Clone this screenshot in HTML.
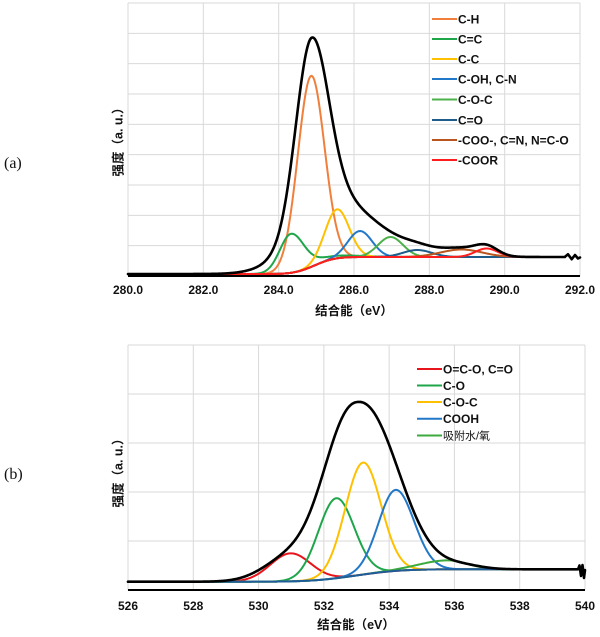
<!DOCTYPE html>
<html><head><meta charset="utf-8"><style>
html,body{margin:0;padding:0;background:#fff;}
svg{display:block;}
text{font-family:"Liberation Sans","Noto Sans CJK SC",sans-serif;fill:#111;}
.tk{font-size:12px;font-weight:bold;text-anchor:middle;}
.lg{font-size:12px;font-weight:bold;}
.ttl{font-size:12.5px;font-weight:bold;text-anchor:middle;}
.pl{font-family:"Liberation Serif",serif;font-size:16px;fill:#111;}
</style></head><body>
<svg id="s" width="600" height="637" viewBox="0 0 600 637" xmlns="http://www.w3.org/2000/svg">
<g stroke="#d9d9d9" stroke-width="1" fill="none">
<line x1="128" y1="3" x2="128" y2="276"/><line x1="203.33" y1="3" x2="203.33" y2="276"/><line x1="278.67" y1="3" x2="278.67" y2="276"/><line x1="354" y1="3" x2="354" y2="276"/><line x1="429.33" y1="3" x2="429.33" y2="276"/><line x1="504.67" y1="3" x2="504.67" y2="276"/><line x1="580" y1="3" x2="580" y2="276"/>
<line x1="128" y1="3" x2="580" y2="3"/><line x1="128" y1="33.33" x2="580" y2="33.33"/><line x1="128" y1="63.67" x2="580" y2="63.67"/><line x1="128" y1="94" x2="580" y2="94"/><line x1="128" y1="124.33" x2="580" y2="124.33"/><line x1="128" y1="154.67" x2="580" y2="154.67"/><line x1="128" y1="185" x2="580" y2="185"/><line x1="128" y1="215.33" x2="580" y2="215.33"/><line x1="128" y1="245.67" x2="580" y2="245.67"/>
<line x1="128" y1="345" x2="128" y2="590"/><line x1="193.29" y1="345" x2="193.29" y2="590"/><line x1="258.57" y1="345" x2="258.57" y2="590"/><line x1="323.86" y1="345" x2="323.86" y2="590"/><line x1="389.14" y1="345" x2="389.14" y2="590"/><line x1="454.43" y1="345" x2="454.43" y2="590"/><line x1="519.71" y1="345" x2="519.71" y2="590"/><line x1="585" y1="345" x2="585" y2="590"/>
<line x1="128" y1="345" x2="585" y2="345"/><line x1="128" y1="394" x2="585" y2="394"/><line x1="128" y1="443" x2="585" y2="443"/><line x1="128" y1="492" x2="585" y2="492"/><line x1="128" y1="541" x2="585" y2="541"/>
</g>
<g id="curvesA"></g>
<g id="curvesB"></g>
<line x1="128" y1="276" x2="580" y2="276" stroke="#000" stroke-width="2"/>
<line x1="128" y1="590" x2="585" y2="590" stroke="#000" stroke-width="2"/>

<text class="tk" x="128" y="294">280.0</text><text class="tk" x="203.33" y="294">282.0</text><text class="tk" x="278.67" y="294">284.0</text><text class="tk" x="354" y="294">286.0</text><text class="tk" x="429.33" y="294">288.0</text><text class="tk" x="504.67" y="294">290.0</text><text class="tk" x="580" y="294">292.0</text>
<text class="ttl" x="354" y="315">结合能（eV）</text>
<text class="tk" x="128" y="610">526</text><text class="tk" x="193.29" y="610">528</text><text class="tk" x="258.57" y="610">530</text><text class="tk" x="323.86" y="610">532</text><text class="tk" x="389.14" y="610">534</text><text class="tk" x="454.43" y="610">536</text><text class="tk" x="519.71" y="610">538</text><text class="tk" x="585" y="610">540</text>
<text class="ttl" x="356" y="629">结合能（eV）</text>

<text class="ttl" transform="translate(118,139) rotate(-90)" x="0" y="4.5">强度（a. u.）</text>
<text class="ttl" transform="translate(118,470) rotate(-90)" x="0" y="4.5">强度（a. u.）</text>
<text class="pl" x="4" y="168">(a)</text>
<text class="pl" x="4" y="479">(b)</text>

<g stroke-width="2">
<line x1="432" y1="19" x2="457" y2="19" stroke="#F07F3C"/>
<line x1="432" y1="39" x2="457" y2="39" stroke="#1FA64A"/>
<line x1="432" y1="59" x2="457" y2="59" stroke="#FFC000"/>
<line x1="432" y1="79" x2="457" y2="79" stroke="#2278C8"/>
<line x1="432" y1="99.5" x2="457" y2="99.5" stroke="#4DB04A"/>
<line x1="432" y1="120" x2="457" y2="120" stroke="#1F5C8A"/>
<line x1="432" y1="140" x2="457" y2="140" stroke="#B9561F"/>
<line x1="432" y1="160" x2="457" y2="160" stroke="#FF1E1E"/>
</g>
<text class="lg" x="458" y="23.3">C-H</text>
<text class="lg" x="458" y="43.3">C=C</text>
<text class="lg" x="458" y="63.3">C-C</text>
<text class="lg" x="458" y="83.3">C-OH, C-N</text>
<text class="lg" x="458" y="103.8">C-O-C</text>
<text class="lg" x="458" y="124.3">C=O</text>
<text class="lg" x="458" y="144.3">-COO-, C=N, N=C-O</text>
<text class="lg" x="458" y="164.3">-COOR</text>
<g stroke-width="2">
<line x1="417" y1="369" x2="442" y2="369" stroke="#E8141C"/>
<line x1="417" y1="385.5" x2="442" y2="385.5" stroke="#1FA64A"/>
<line x1="417" y1="402" x2="442" y2="402" stroke="#FFC000"/>
<line x1="417" y1="418.7" x2="442" y2="418.7" stroke="#2278C8"/>
<line x1="417" y1="435.5" x2="442" y2="435.5" stroke="#3DAA3D"/>
</g>
<text class="lg" x="443" y="373.3">O=C-O, C=O</text>
<text class="lg" x="443" y="389.8">C-O</text>
<text class="lg" x="443" y="406.3">C-O-C</text>
<text class="lg" x="443" y="423">COOH</text>
<text x="443" y="439.5" style="font-size:11px;">吸附水/氧</text>
</svg>
<script>
function erf(x){var s=x<0?-1:1;x=Math.abs(x);var t=1/(1+0.3275911*x);var y=1-(((((1.061405429*t-1.453152027)*t)+1.421413741)*t-0.284496736)*t+0.254829592)*t*Math.exp(-x*x);return s*y;}
function pk(e,p){var d=e-p.c;var s=d<0?p.sL:p.sR;var v=Math.exp(-d*d/(2*s*s));if(p.t&&d>0){v=(1-p.t)*v+p.t*Math.exp(-d*d/(2*p.ts*p.ts));}return p.h*v;}
function P(c,h,sL,sR,t,ts){return {c:c,h:h,sL:sL,sR:(sR===undefined?sL:sR),t:t,ts:ts};}
function G(d,s){return Math.exp(-d*d/(2*s*s));}
var NS="http://www.w3.org/2000/svg";
function addPath(g,d,col,w){var p=document.createElementNS(NS,"path");p.setAttribute("d",d);p.setAttribute("fill","none");p.setAttribute("stroke",col);p.setAttribute("stroke-width",w);p.setAttribute("stroke-linejoin","round");p.setAttribute("stroke-linecap","round");g.appendChild(p);}
function mk(e0,e1,X,Y,f,step){var d="";for(var e=e0;e<=e1+1e-9;e+=step){d+=(d?"L":"M")+X(e).toFixed(2)+","+Y(f(e)).toFixed(2);}return d;}

/* ---- chart a ---- */
(function(){
var g=document.getElementById("curvesA");
var X=function(e){return 128+(e-280)*37.667;};
var Y=function(h){return 274-h;};
var bg=function(e){return 17*(0.5+0.5*erf((e-284.95)/0.6));};
var pCO=P(287.68,7,.38), pBr=P(288.85,7.5,.55), pR=P(289.52,8.5,.3);
var comps=[
 [P(284.86,191,.354),"#F07F3C"],
 [P(284.33,39,.30,.33,.12,1.1),"#1FA64A"],
 [P(285.55,49,.32),"#FFC000"],
 [P(286.16,26,.32),"#2278C8"],
 [P(286.97,20,.33),"#4DB04A"],
 [pCO,"#1F5C8A"],
 [pBr,"#B9561F"],
 [pR,"#FF1E1E"]
];
comps.forEach(function(c){addPath(g,mk(280,291.3,X,Y,function(e){return bg(e)+pk(e,c[0]);},0.02),c[1],2);});
var blk=function(e){
  var d=e-284.88,m;
  if(d<0){m=0.85*G(d,.42)+0.15*G(d,.8);}
  else{m=0.68*G(d,.437)+0.32*Math.exp(-(d/2.01)*(d/2.01));}
  return bg(e)+229*m+0.5*pk(e,pCO)+pk(e,pBr)+pk(e,pR);
};
var d=mk(280,291.6,X,Y,blk,0.02);
d+="L565,256.8L568,254.3L571.7,259.2L575,255L578,258.5L580,257.5";
addPath(g,d,"#000",2.6);
})();

/* ---- chart b ---- */
(function(){
var g=document.getElementById("curvesB");
var X=function(e){return 128+(e-526)*32.643;};
var Y=function(h){return 581.7-h;};
var bg=function(e){return 12.4*(0.5+0.5*erf((e-533.0)/1.5));};
var comps=[
 [P(530.98,28,.62),"#E8141C"],
 [P(532.38,80,.55),"#1FA64A"],
 [P(533.2,112,.55),"#FFC000"],
 [P(534.2,81,.53,.56),"#2278C8"],
 [P(535.8,9,.85,.6),"#3DAA3D"]
];
comps.forEach(function(c){addPath(g,mk(526,539.3,X,Y,function(e){return bg(e)+pk(e,c[0]);},0.02),c[1],2);});
addPath(g,mk(526,539.3,X,Y,bg,0.02),"#1F5C99",2);
var blk=function(e){
  var d=e-533.05,m;
  if(d<0){m=Math.exp(-Math.pow(-d/1.349,2.3));}
  else{m=Math.exp(-Math.pow(d/1.638,2.15));}
  return bg(e)+24*G(e-530.98,.8)+172.5*m+4*G(e-536.2,.6);
};
var d=mk(526,539.5,X,Y,blk,0.02);
d+="L578,569.3L579.5,565.5L581,576L582.5,565L584,578L585,570";
addPath(g,d,"#000",2.6);
})();
</script>
</body></html>
